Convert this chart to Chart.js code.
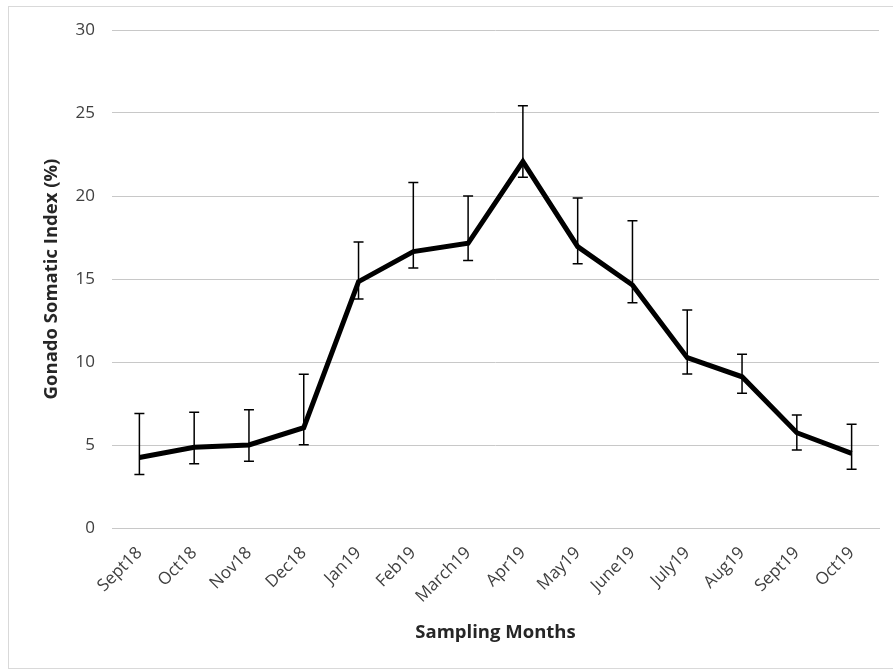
<!DOCTYPE html>
<html lang="en">
<head>
  <meta charset="UTF-8">
  <title>Gonado Somatic Index</title>
  <script src="https://cdn.jsdelivr.net/npm/chart.js"></script>
  <style>
    body { margin: 0; background: #fff; }
    #wrap { position: relative; width: 893px; height: 669px; }
    #frame { position: absolute; left: 8px; top: 6px; width: 900px; height: 661px; border: 1px solid #d9d9d9; }
    canvas { position: absolute; left: 0; top: 0; }
  </style>
</head>
<body>
  <div id="wrap">
    <div id="frame"></div>
    <canvas id="gsiChart" width="893" height="669"></canvas>
  </div>

  <script>
    // Månader och medelvärden (GSI %)
    const months = ["Sept18", "Oct18", "Nov18", "Dec18", "Jan19", "Feb19", "March19",
                    "Apr19", "May19", "June19", "July19", "Aug19", "Sept19", "Oct19"];
    const gsiMean = [4.25, 4.86, 5.0, 6.04, 14.84, 16.65, 17.15, 22.07, 16.95, 14.64, 10.26, 9.11, 5.74, 4.5];
    // felstaplarnas övre och undre gränser
    const gsiUpper = [6.9, 6.97, 7.13, 9.26, 17.23, 20.82, 20.0, 25.44, 19.88, 18.51, 13.13, 10.46, 6.8, 6.25];
    const gsiLower = [3.23, 3.87, 4.02, 5.02, 13.8, 15.66, 16.12, 21.13, 15.92, 13.57, 9.28, 8.11, 4.7, 3.54];
    const yTicks = [0, 5, 10, 15, 20, 25, 30];

    const errorBars = {
      id: "errorBars",
      afterDatasetsDraw(chart) {
        const ctx = chart.ctx;
        const x = chart.scales.x, y = chart.scales.y;
        ctx.save();
        ctx.strokeStyle = "#000";
        ctx.lineWidth = 1.5;
        months.forEach((m, i) => {
          const px = x.getPixelForValue(i);
          const top = y.getPixelForValue(gsiUpper[i]);
          const bot = y.getPixelForValue(gsiLower[i]);
          ctx.beginPath();
          ctx.moveTo(px, top); ctx.lineTo(px, bot);
          ctx.moveTo(px - 5, top); ctx.lineTo(px + 5, top);
          ctx.moveTo(px - 5, bot); ctx.lineTo(px + 5, bot);
          ctx.stroke();
        });
        ctx.restore();
      }
    };

    const tickFont = { family: "'Open Sans', sans-serif", size: 17 };
    const titleFont = { family: "'Open Sans', sans-serif", size: 18.5, weight: "bold" };

    new Chart(document.getElementById("gsiChart"), {
      type: "line",
      data: {
        labels: months,
        datasets: [{
          label: "GSI (%)",
          data: gsiMean,
          borderColor: "#000",
          borderWidth: 5,
          pointRadius: 0,
          tension: 0,
          fill: false
        }]
      },
      options: {
        responsive: false,
        animation: false,
        layout: { padding: { left: 41, top: 30, right: 14, bottom: 21 } },
        plugins: { legend: { display: false }, tooltip: { enabled: false } },
        scales: {
          x: {
            offset: true,
            grid: { display: false, drawTicks: false },
            border: { display: true, color: "#c8c8c8" },
            ticks: { autoSkip: false, minRotation: 45, maxRotation: 45, padding: 15, color: "#404040", font: tickFont },
            title: { display: true, text: "Sampling Months", color: "#262626", font: titleFont, padding: { top: 4 } },
            afterFit: s => { s.height = 120; }
          },
          y: {
            min: 0, max: 30,
            afterBuildTicks: s => { s.ticks = yTicks.map(v => ({ value: v })); },
            grid: { color: "#c8c8c8", lineWidth: 1, drawTicks: false },
            border: { display: false },
            ticks: { padding: 17, color: "#404040", font: tickFont },
            title: { display: true, text: "Gonado Somatic Index (%)", color: "#262626", font: titleFont, padding: 0 },
            afterFit: s => { s.width = 71; }
          }
        }
      },
      plugins: [errorBars]
    });
  </script>
</body>
</html>
